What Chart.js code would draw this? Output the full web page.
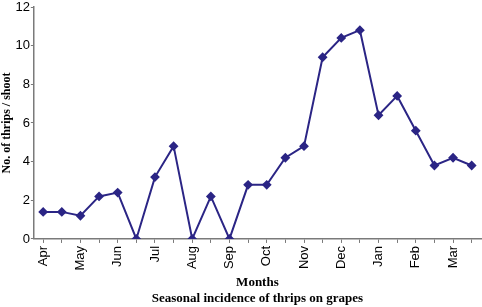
<!DOCTYPE html>
<html>
<head>
<meta charset="utf-8">
<script src="https://cdn.jsdelivr.net/npm/chart.js@4"></script>
<style>
    html, body { margin: 0; padding: 0; background: #fff; }
    #chart { display: block; }
</style>
</head>
<body>
<canvas id="chart" width="482" height="307"></canvas>
<script>
// Seasonal incidence of thrips on grapes (two counts per month)
const months = ['Apr', '', 'May', '', 'Jun', '', 'Jul', '', 'Aug', '', 'Sep', '', 'Oct', '', 'Nov', '', 'Dec', '', 'Jan', '', 'Feb', '', 'Mar', ''];
const thrips = [1.4, 1.4, 1.2, 2.2, 2.4, 0, 3.2, 4.8, 0, 2.2, 0, 2.8, 2.8, 4.2, 4.8, 9.4, 10.4, 10.8, 6.4, 7.4, 5.6, 3.8, 4.2, 3.8];
const yTicks = [0, 2, 4, 6, 8, 10, 12];

const lineColor = '#2b2585';
const axisColor = '#7a7a7a';
const serif = "'Liberation Serif', 'Times New Roman', serif";
const sans = "'Liberation Sans', Arial, sans-serif";

const canvas = document.getElementById('chart');

new Chart(canvas, {
    type: 'line',
    data: {
        labels: months,
        datasets: [{
            data: thrips,
            borderColor: lineColor,
            backgroundColor: lineColor,
            borderWidth: 2,
            pointStyle: 'rectRot',
            pointRadius: 3.5,
            tension: 0
        }]
    },
    options: {
        responsive: false,
        animation: false,
        layout: { autoPadding: false, padding: { top: 0, right: 1, left: 0, bottom: 0 } },
        plugins: {
            legend: { display: false },
            tooltip: { enabled: false }
        },
        scales: {
            x: {
                offset: true,
                // rotated labels would otherwise reserve room on the right
                afterFit: axis => { axis.paddingRight = 0; },
                grid: {
                    display: true,
                    offset: false,
                    drawOnChartArea: false,
                    color: axisColor,
                    tickLength: 4
                },
                border: { color: axisColor, width: 1.5 },
                ticks: {
                    autoSkip: false,
                    maxRotation: 90,
                    minRotation: 90,
                    color: '#000',
                    padding: 3,
                    font: { family: sans, size: 13 }
                },
                // axis title plus the figure caption, both centred under the plot
                title: {
                    display: true,
                    text: ['Months', 'Seasonal incidence of thrips on grapes'],
                    color: '#000',
                    font: { family: serif, size: 13, weight: 'bold', lineHeight: 1.25 },
                    padding: { top: 1, bottom: 0 }
                }
            },
            y: {
                min: 0,
                max: 12,
                afterBuildTicks: axis => {
                    axis.ticks = yTicks.map(v => ({ value: v }));
                },
                afterFit: axis => { axis.paddingTop = 7; },
                grid: {
                    display: true,
                    drawOnChartArea: false,
                    color: axisColor,
                    tickLength: 3
                },
                border: { color: axisColor, width: 1.5 },
                ticks: {
                    color: '#000',
                    padding: 1,
                    font: { family: sans, size: 13 }
                },
                title: {
                    display: true,
                    text: 'No. of thrips / shoot',
                    color: '#000',
                    font: { family: serif, size: 12, weight: 'bold' },
                    padding: { top: 0, bottom: 0 }
                }
            }
        }
    }
});
</script>
</body>
</html>
